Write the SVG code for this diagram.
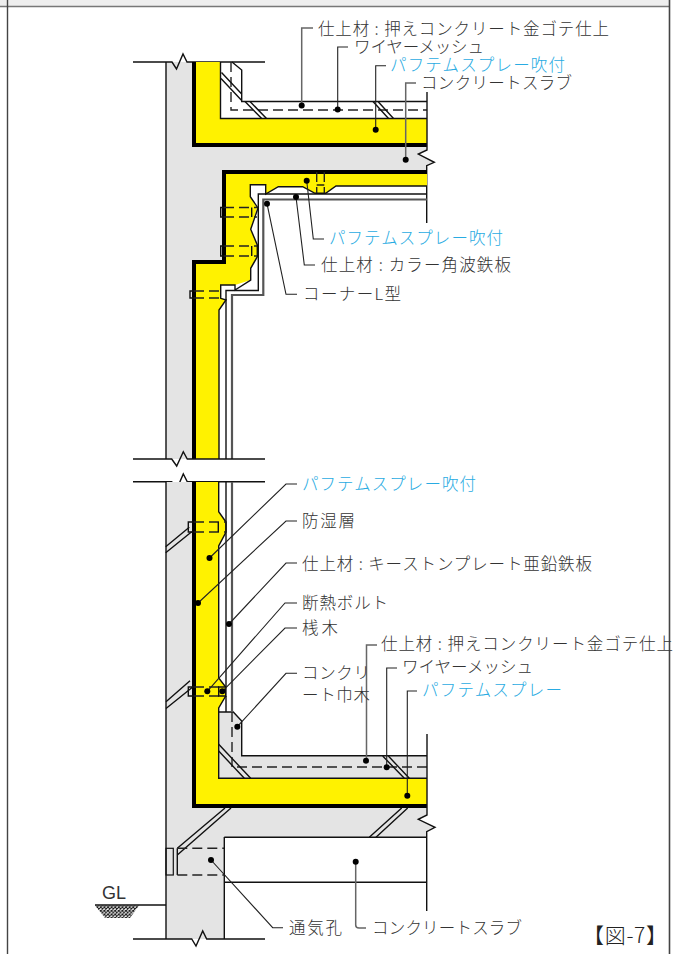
<svg xmlns="http://www.w3.org/2000/svg" width="677" height="954" viewBox="0 0 677 954">
<style>
.t{font-family:"Noto Sans CJK JP","Noto Sans",sans-serif;font-size:16.5px;fill:#333;font-weight:300}
.b{fill:#29abe2}
.o{fill:none;stroke:#111;stroke-width:1.4}
.h{fill:none;stroke:#000;stroke-width:4}
.d{fill:none;stroke:#222;stroke-width:1.4;stroke-dasharray:10 5}
.y{fill:#fff200;stroke:none}
.g{fill:#e4e4e4;stroke:none}
.l{fill:none;stroke:#222;stroke-width:1.1}
.l2{fill:none;stroke:#666;stroke-width:1.5}
.p{fill:#000}
</style>
<defs>
<pattern id="x" width="3.6" height="3.6" patternUnits="userSpaceOnUse"><path d="M0,0L3.6,3.6M3.6,0L0,3.6" stroke="#111" stroke-width="1"/></pattern>
</defs>
<rect width="677" height="954" fill="#fff"/>
<g id="frame">
<rect width="669" height="6" fill="#eee"/>
<path d="M0,6.5H669" fill="none" stroke="#777" stroke-width="1.6"/>
<path d="M7.5,0V954" fill="none" stroke="#444" stroke-width="1.4"/>
<path d="M669.5,0V954" fill="none" stroke="#444" stroke-width="1.6"/>
</g>
<g id="wall-upper">
<path class="g" d="M166,62H196V145H427V150L418,154L434,162L427,166V172H224V262H194V459H166Z"/>
<path class="o" d="M166,62V459"/>
<path class="o" d="M133,62H172L176.5,69L183,54L187,62H265"/>
</g>
<g id="roof-insulation">
<path class="y" d="M194,62H220.5V118.5H427V145H194Z"/>
<path class="h" d="M194,62V145H427"/>
<path class="o" d="M220.5,62V118.5H427"/>
<path class="o" d="M232,62L241.7,70V101.5H427"/>
<path class="d" d="M231,62V110H427"/>
<path class="o" d="M221.5,72.5L241.7,94M221,78.5L241.7,100.5M245,101.5L261.7,118.5M250,101.5L266.5,118.5M373,101.5L388.5,118.5M378,101.5L393.5,118.5"/>
<path class="o" d="M427,92V150L418.3,154L434.3,162.3L426.7,165.7V223"/>
</g>
<g id="ceiling-insulation">
<path class="y" d="M427,172H224V262H194V459H219V310L226,300L221,298V285H235L250.7,280V268.3L257.3,256.7V245L250.7,229.3L257,208L250.3,196.7V184.7H265.7V194L278.3,186.7H302.7L315,193.3H325.7L336,186H427Z"/>
<path class="h" d="M427,172H224V262H194V459"/>
<path class="o" d="M427,186H336L325.7,193.3H315L302.7,186.7H278.3L265.7,194V184.7H250.3V196.7L258,208L250.7,229.3L257.3,245V256.7L250.7,268.3V280L235,290V285H220.7V298.3L226,300L219,310V459"/>
<path class="o" d="M427,194H258.3V290.5H226V459"/>
<path fill="none" stroke="#555" stroke-width="2.2" d="M427,199.5H263.3V295H232V459"/>
<path class="d" d="M224,207.5H257M224,217H257M224,246H257M224,256H257M194,291H221M194,298H221"/>
<path class="o" d="M224,207.5H220.7V217H224M224,246H220.7V256H224M194,291H190V298H194M251.7,207.5V217M251.7,246V256"/>
<path class="d" d="M316.7,172V193M324.3,172V193" stroke-dasharray="7 5"/>
<path class="o" d="M316.7,185H324.3"/>
</g>
<g id="break">
<rect x="130" y="459" width="140" height="23" fill="#fff"/>
<path class="o" d="M133,459H171.7L176.7,466L183.3,451.7L187.3,459H265"/>
<path class="o" d="M133,481.7H171.7L176.7,489.3L183.3,474L187.3,481.7H265"/>
</g>
<g id="wall-lower">
<path class="g" d="M166,482H194V808H427V815L418.3,819.3L435,827.3L426.7,831.7V837H224.3V939H166Z"/>
<path class="o" d="M166,482V939"/>
<path class="o" d="M224.3,837V939"/>
<path class="o" d="M133,939H191.7L196,946L202.7,931L206.7,939H265"/>
</g>
<g id="lower-insulation">
<path class="g" d="M218.7,712H233.3L241.7,721V755.7H427V778.3H218.7Z"/>
<path class="y" d="M194,482H218.7V511.7L226,522V532L218.7,546V678L225.7,687V696L218.7,708V778.3H427V806.7H194Z"/>
<path class="h" d="M194,482V806H427"/>
<path class="o" d="M218.7,482V511.7L226,522V532L218.7,546V678L225.7,687V696L218.7,708V778.3H427"/>
<path class="o" d="M218.7,712H233.3L241.7,721V755.7H427"/>
<path class="o" d="M226,482V687M226,696V712"/>
<path fill="none" stroke="#555" stroke-width="2.2" d="M232,482V712"/>
<path class="d" d="M194,522H226M194,532H226M194,687H219M194,696H219"/>
<path class="o" d="M194,522H188.3V532H194M218.3,522V532M194,687H188.3V696H194M218.7,687H225.7V696H218.7Z"/>
<path class="d" d="M232,712V767H427"/>
<path class="o" d="M165.7,546.7L189.3,527.3M165.7,552.7L191.7,531.7M166,701.7L190,680.7M166,708.5L194,686"/>
<path class="o" d="M218.7,744.3L250.7,778.3M218.7,751L244.3,778.3M382.7,756L404.3,778.3M388.3,756L409.3,778.3"/>
<path class="o" d="M427,734V815L418.3,819.3L435,827.3L426.7,831.7V911"/>
</g>
<g id="foundation">
<path class="o" d="M224.3,837.3H427M224.3,882.3H427"/>
<path class="o" d="M177.3,848.3L225,808M177.3,855L231,808M369.3,837.3L401.7,808M376,837.3L407.7,808"/>
<rect x="166" y="848.3" width="7.3" height="26.7" fill="none" stroke="#111" stroke-width="1.2"/>
<path class="o" d="M177.3,848.3V875"/>
<path class="d" d="M177.3,848.3H224M177.3,875H224"/>
</g>
<g id="ground">
<path class="o" d="M95,905H166"/>
<polygon points="95,905.5 139,905.5 130,918 105,918" fill="url(#x)"/>
<text x="102" y="899" font-family="'Liberation Sans',sans-serif" font-size="18" fill="#333">GL</text>
</g>
<g id="connectors">
<path class="l2" d="M313,28H301.7V105"/>
<path class="l" d="M348,47H337.7V109"/>
<path class="l" d="M386,65.7H375.7V129.7"/>
<path class="l2" d="M416,83H405.7V159.7"/>
<path class="l" d="M306.7,180.7L313.3,239H324"/>
<path class="l" d="M296,197L304.3,265H315"/>
<path class="l" d="M267,203.7L286,294.3H297"/>
<path class="l" d="M209.5,558L286,484H297"/>
<path class="l" d="M198,603L286,521H297"/>
<path class="l" d="M229,624L286,563H297"/>
<path class="l" d="M207.3,691.3L285,603H297"/>
<path class="l" d="M222.3,691.3L285,628H297"/>
<path class="l" d="M237.3,726.7L286,673.3H297"/>
<path class="l2" d="M377,645H366.5V760.7"/>
<path class="l" d="M397,668H386.7V767.3"/>
<path class="l" d="M417,691H407.3V795.7"/>
<path class="l" d="M211,860L272.7,927.7H283"/>
<path class="l2" d="M355.7,861.7V925Q355.7,928 359,928H366"/>
</g>
<g id="dots">
<circle class="p" cx="301.7" cy="105.5" r="3"/>
<circle class="p" cx="337.7" cy="109.5" r="3"/>
<circle class="p" cx="375.7" cy="129.7" r="3"/>
<circle class="p" cx="405.7" cy="159.7" r="3"/>
<circle class="p" cx="306.7" cy="180.7" r="3"/>
<circle class="p" cx="296" cy="197" r="3"/>
<circle class="p" cx="267" cy="203.7" r="3"/>
<circle class="p" cx="209.5" cy="558" r="3"/>
<circle class="p" cx="198" cy="603" r="3"/>
<circle class="p" cx="229" cy="624" r="3"/>
<circle class="p" cx="207.3" cy="691.3" r="3"/>
<circle class="p" cx="222.3" cy="691.3" r="3"/>
<circle class="p" cx="237.3" cy="726.7" r="3"/>
<circle class="p" cx="366" cy="760.7" r="3"/>
<circle class="p" cx="386.7" cy="767.3" r="3"/>
<circle class="p" cx="407.3" cy="795.7" r="3"/>
<circle class="p" cx="211" cy="860" r="3"/>
<circle class="p" cx="355.7" cy="861.7" r="3"/>
</g>
<g id="labels">
<text class="t" x="318" y="35" textLength="291">仕上材 : 押えコンクリート金ゴテ仕上</text>
<text class="t" x="354" y="53" textLength="130">ワイヤーメッシュ</text>
<text class="t b" x="390" y="71" textLength="175">パフテムスプレー吹付</text>
<text class="t" x="421" y="89" textLength="151">コンクリートスラブ</text>
<text class="t b" x="329" y="244" textLength="174">パフテムスプレー吹付</text>
<text class="t" x="321" y="271" textLength="190">仕上材 : カラー角波鉄板</text>
<text class="t" x="303" y="300" textLength="98">コーナーL型</text>
<text class="t b" x="302" y="490" textLength="174">パフテムスプレー吹付</text>
<text class="t" x="302" y="527" textLength="53">防湿層</text>
<text class="t" x="302" y="570" textLength="290">仕上材 : キーストンプレート亜鉛鉄板</text>
<text class="t" x="302" y="609" textLength="86">断熱ボルト</text>
<text class="t" x="302" y="634" textLength="36">桟木</text>
<text class="t" x="302" y="679" textLength="68">コンクリ</text>
<text class="t" x="302" y="701" textLength="68">ート巾木</text>
<text class="t" x="381" y="650" textLength="292">仕上材 : 押えコンクリート金ゴテ仕上</text>
<text class="t" x="402" y="673" textLength="131">ワイヤーメッシュ</text>
<text class="t b" x="422" y="696" textLength="140">パフテムスプレー</text>
<text class="t" x="289" y="934" textLength="53">通気孔</text>
<text class="t" x="372" y="934" textLength="150">コンクリートスラブ</text>
<text class="t" x="583" y="943" textLength="84" style="font-size:21px;fill:#222">【図-7】</text>
</g>
</svg>
